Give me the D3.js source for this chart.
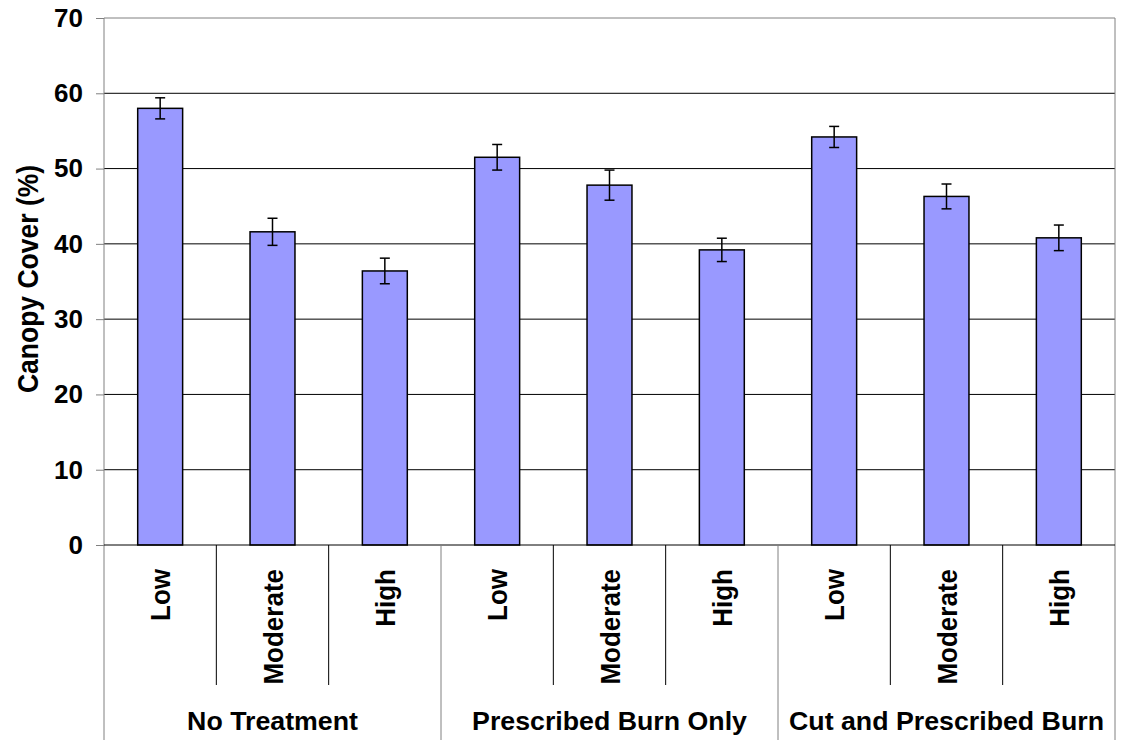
<!DOCTYPE html>
<html>
<head>
<meta charset="utf-8">
<script src="https://cdn.jsdelivr.net/npm/d3@7"></script>
<style>
  body { margin: 0; background: #fff; }
  text { font-family: Arial, "Liberation Sans", sans-serif; font-weight: bold; fill: #000; }
</style>
</head>
<body>
<div id="chart"></div>
<script>
// data
var groups = ["No Treatment", "Prescribed Burn Only", "Cut and Prescribed Burn"];
var levels = ["Low", "Moderate", "High"];
var cover = [58.0, 41.6, 36.4, 51.5, 47.8, 39.2, 54.2, 46.3, 40.8];
var stdErr = [1.4, 1.8, 1.7, 1.7, 2.0, 1.55, 1.4, 1.65, 1.7];
var yTicks = [0, 10, 20, 30, 40, 50, 60, 70];

var W = 1125, H = 742;
// plot box (note: "top" is reserved on window, so use plotTop etc.)
var plotLeft = 104, plotRight = 1115, plotTop = 18, plotBottom = 545;
var stretch = 1.08; // the original text looks a bit wide

var svg = d3.select("#chart").append("svg").attr("width", W).attr("height", H);

var rows = [];
groups.forEach(function (g, gi) {
  levels.forEach(function (l, li) {
    var i = gi * levels.length + li;
    rows.push({ i: i, group: g, level: l, value: cover[i], err: stdErr[i] });
  });
});

var x = d3.scaleBand().domain(rows.map(d => d.i)).range([plotLeft, plotRight])
  .paddingInner(0.6).paddingOuter(0.3);
var xEdge = d3.scaleLinear().domain([0, rows.length]).range([plotLeft, plotRight]);
var y = d3.scaleLinear().domain([0, 70]).range([plotBottom, plotTop]);
var cx = d => x(d.i) + x.bandwidth() / 2;

// gridlines
svg.append("g").selectAll("line")
  .data(yTicks.filter(t => t > 0 && t < 70))
  .enter().append("line")
  .attr("x1", plotLeft).attr("x2", plotRight)
  .attr("y1", d => y(d)).attr("y2", d => y(d))
  .attr("stroke", "#000").attr("stroke-width", 1);

// plot border top/right (gray)
svg.append("line").attr("x1", plotLeft).attr("x2", plotRight).attr("y1", y(70)).attr("y2", y(70))
  .attr("stroke", "#808080").attr("stroke-width", 1);
svg.append("line").attr("x1", plotRight).attr("x2", plotRight).attr("y1", plotTop).attr("y2", 740)
  .attr("stroke", "#808080").attr("stroke-width", 1);

// bars
svg.append("g").selectAll("rect")
  .data(rows).enter().append("rect")
  .attr("x", d => x(d.i))
  .attr("width", x.bandwidth())
  .attr("y", d => y(d.value))
  .attr("height", d => y(0) - y(d.value))
  .attr("fill", "#9999FF")
  .attr("stroke", "#000")
  .attr("stroke-width", 1.5);

// error bars
var eb = svg.append("g").selectAll("g").data(rows).enter().append("g")
  .attr("stroke", "#000").attr("stroke-width", 1.5);
eb.append("line")
  .attr("x1", cx).attr("x2", cx)
  .attr("y1", d => y(d.value + d.err)).attr("y2", d => y(d.value - d.err));
eb.append("line")
  .attr("x1", d => cx(d) - 5).attr("x2", d => cx(d) + 5)
  .attr("y1", d => y(d.value + d.err)).attr("y2", d => y(d.value + d.err));
eb.append("line")
  .attr("x1", d => cx(d) - 5).attr("x2", d => cx(d) + 5)
  .attr("y1", d => y(d.value - d.err)).attr("y2", d => y(d.value - d.err));

// y axis
var yAxis = svg.append("g").attr("transform", "translate(" + plotLeft + ",0)")
  .call(d3.axisLeft(y).tickValues(yTicks).tickSize(8).tickPadding(13));
yAxis.select(".domain").attr("stroke", "#808080").attr("d", "M0," + plotTop + "V740");
yAxis.selectAll(".tick line").attr("stroke", "#808080");
yAxis.selectAll(".tick text").style("font-size", "26px").style("font-family", "Arial, 'Liberation Sans', sans-serif")
  .style("font-weight", "bold").attr("fill", "#000");

// x axis baseline
svg.append("line").attr("x1", plotLeft).attr("x2", plotRight).attr("y1", plotBottom).attr("y2", plotBottom)
  .attr("stroke", "#000").attr("stroke-width", 1);

// category separators
svg.append("g").selectAll("line")
  .data(d3.range(1, rows.length))
  .enter().append("line")
  .attr("x1", d => xEdge(d)).attr("x2", d => xEdge(d))
  .attr("y1", plotBottom).attr("y2", d => d % levels.length === 0 ? 740 : 685)
  .attr("stroke", d => d % levels.length === 0 ? "#808080" : "#000")
  .attr("stroke-width", 1);

// level labels
svg.append("g").selectAll("text")
  .data(rows).enter().append("text")
  .attr("transform", d => "translate(" + cx(d) + ",569) scale(" + stretch + ",1) rotate(-90)")
  .attr("text-anchor", "end")
  .attr("dy", "0.36em")
  .style("font-size", "26px")
  .text(d => d.level);

// group labels
svg.append("g").selectAll("text")
  .data(groups).enter().append("text")
  .attr("transform", (d, gi) => "translate(" +
    (xEdge(gi * levels.length) + xEdge((gi + 1) * levels.length)) / 2 + ",730) scale(1.07,1)")
  .attr("text-anchor", "middle")
  .style("font-size", "25px")
  .text(d => d);

// y label
svg.append("text")
  .attr("transform", "translate(28,279) scale(" + stretch + ",1) rotate(-90)")
  .attr("text-anchor", "middle")
  .attr("dy", "0.36em")
  .style("font-size", "26.5px")
  .text("Canopy Cover (%)");
</script>
</body>
</html>
